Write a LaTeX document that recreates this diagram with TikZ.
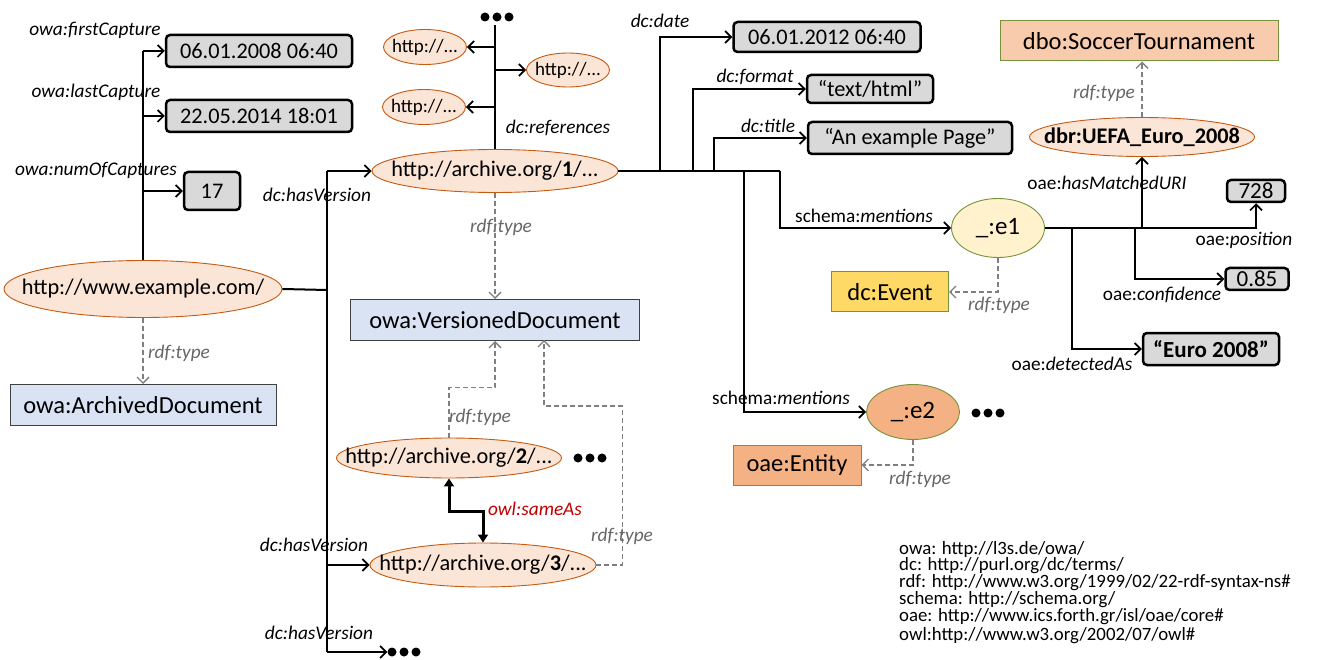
\documentclass[tikz,border=0pt]{standalone}
\usepackage{fontspec}
\setmainfont{Carlito}
\usetikzlibrary{arrows.meta,shapes.geometric,calc}
\definecolor{urifill}{HTML}{FBE5D6}
\definecolor{uribd}{HTML}{C55A11}
\definecolor{litfill}{HTML}{D9D9D9}
\definecolor{clsfill}{HTML}{DAE3F3}
\definecolor{clsbd}{HTML}{404040}
\definecolor{grnbd}{HTML}{76923C}
\definecolor{evfill}{HTML}{FFD966}
\definecolor{e1fill}{HTML}{FFF2CC}
\definecolor{entfill}{HTML}{F4B183}
\definecolor{dbofill}{HTML}{F8CBAD}
\definecolor{rtgray}{HTML}{7F7F7F}
\definecolor{rtlbl}{HTML}{666666}
\definecolor{owlred}{HTML}{C00000}
\newcommand\fsMain{\fontsize{22.3}{26}\selectfont}
\newcommand\fsCls{\fontsize{24.5}{29}\selectfont}
\newcommand\fsLbl{\fontsize{19.3}{22}\selectfont\itshape}
\newcommand\fsSmall{\fontsize{19}{22}\selectfont}
\newcommand\fsLeg{\fontsize{18.8}{16.7}\selectfont}
\newcommand\zb[1]{\makebox[0pt]{#1}}
\newcommand\threedots{\tikz{\fill (0pt,0pt) circle (4.5pt) (12pt,0pt) circle (4.5pt) (24pt,0pt) circle (4.5pt);}}
\begin{document}
\begin{tikzpicture}[x=1pt,y=-1pt,
  uri/.style={ellipse, draw=uribd, fill=urifill, line width=0.9pt, inner sep=0pt, font=\fsMain},
  lit/.style={rectangle, rounded corners=4pt, draw=black, line width=2.5pt, fill=litfill, inner sep=0pt, font=\fsMain},
  cls/.style={rectangle, draw=clsbd, fill=clsfill, line width=1pt, inner sep=0pt, font=\fsCls},
  lbl/.style={inner sep=0pt, font=\fsLbl},
  rtl/.style={inner sep=0pt, font=\fsLbl, text=rtlbl},
  conn/.style={line width=1.7pt, -{Straight Barb[length=6pt,width=12pt]}},
  trunk/.style={line width=2pt},
  rt/.style={draw=rtgray, line width=1.3pt, dash pattern=on 5pt off 3pt, -{Straight Barb[length=6pt,width=12pt]}},
  same/.style={line width=3pt, {Triangle[length=8pt,width=10pt]}-{Triangle[length=8pt,width=10pt]}},
  dotsn/.style={inner sep=0pt}
]
\useasboundingbox (0,0) rectangle (1317,660);

% ---------- nodes ----------
\node[uri, minimum width=278, minimum height=57] (ex) at (143,289) {\zb{http://www.example.com/}};
\node[uri, minimum width=246, minimum height=43] (a1) at (495,171) {\zb{http://archive.org/\textbf{1}/...}};
\node[uri, minimum width=225, minimum height=40] (a2) at (449,458) {\zb{http://archive.org/\textbf{2}/...}};
\node[uri, minimum width=226, minimum height=44] (a3) at (483,565) {\zb{http://archive.org/\textbf{3}/...}};
\node[uri, minimum width=83, minimum height=35, font=\fsSmall] (h1) at (425,47) {\zb{http://...}};
\node[uri, minimum width=83, minimum height=34, font=\fsSmall] (h2) at (568,70) {\zb{http://...}};
\node[uri, minimum width=83, minimum height=35, font=\fsSmall] (h3) at (424,107) {\zb{http://...}};
\node[ellipse, draw=grnbd, fill=e1fill, line width=0.9pt, inner sep=0pt, minimum width=93, minimum height=59, font=\fontsize{25}{30}\selectfont] (e1) at (998,228) {\zb{\_:e1}};
\node[ellipse, draw=grnbd, fill=entfill, line width=0.9pt, inner sep=0pt, minimum width=93, minimum height=55, font=\fontsize{25}{30}\selectfont] (e2) at (913,412) {\zb{\_:e2}};
\node[uri, minimum width=225, minimum height=39] (dbr) at (1142,137) {\zb{\textbf{dbr:UEFA\_Euro\_2008}}};

\node[lit, minimum width=186, minimum height=32] (d1) at (259,51) {06.01.2008 06:40};
\node[lit, minimum width=186, minimum height=32] (d2) at (259,116) {22.05.2014 18:01};
\node[lit, minimum width=56, minimum height=38] (n17) at (212,191) {17};
\node[lit, minimum width=187, minimum height=30] (date) at (827,37) {06.01.2012 06:40};
\node[lit, minimum width=126, minimum height=28] (fmt) at (870,89) {“text/html”};
\node[lit, minimum width=204, minimum height=32] (title) at (910,138) {“An example Page”};
\node[lit, minimum width=58, minimum height=22, font=\fontsize{23}{26}\selectfont] (pos) at (1256,191) {728};
\node[lit, minimum width=63, minimum height=22, font=\fontsize{23}{26}\selectfont] (conf) at (1257,279) {0.85};
\node[lit, minimum width=136, minimum height=32, font=\fontsize{23}{26}\selectfont] (euro) at (1211,349) {\textbf{“Euro 2008”}};

\node[cls, minimum width=266, minimum height=41] (ad) at (143,405) {owa:ArchivedDocument};
\node[cls, minimum width=289, minimum height=41] (vd) at (495,320) {owa:VersionedDocument};
\node[cls, draw=grnbd, fill=evfill, minimum width=117, minimum height=40] (ev) at (890,292) {dc:Event};
\node[cls, draw=grnbd, fill=entfill, minimum width=128, minimum height=40] (ent) at (797,465) {oae:Entity};
\node[cls, draw=grnbd, fill=dbofill, minimum width=278, minimum height=40] (dbo) at (1139,41) {dbo:SoccerTournament};

\node[dotsn] (dTop) at (497,17) {\threedots};
\node[dotsn] (dA2) at (590,458) {\threedots};
\node[dotsn] (dE2) at (988,413) {\threedots};
\node[dotsn] (dHV) at (404,652) {\threedots};

% ---------- coordinates ----------
\coordinate (hvx) at (327,290);
\coordinate (reftop) at (495,25);
\coordinate (jdate) at (660,171);
\coordinate (jfmt) at (693,171);
\coordinate (jtitle) at (714,171);
\coordinate (je2) at (744,171);
\coordinate (je1) at (780,171);
\coordinate (jconf) at (1135,228);
\coordinate (jdet) at (1072,228);
\coordinate (vdin) at (544,340);

% ---------- connectors: example ----------
\draw[trunk] (ex.north) -- (ex.north |- d1.west);
\draw[conn] (ex.north |- d1.west) -- (d1.west);
\draw[conn] (ex.north |- d2.west) -- (d2.west);
\draw[conn] (ex.north |- n17.west) -- (n17.west);
\draw[trunk] (ex.east) -- (hvx);
\draw[trunk] (hvx |- a1.west) -- (hvx |- dHV.west);
\draw[conn] (hvx |- a1.west) -- (a1.west);
\draw[conn] (hvx |- a3.west) -- (a3.west);
\draw[conn] (hvx |- dHV.west) -- (dHV.west);

% ---------- references ----------
\draw[trunk] (a1.north) -- (reftop);
\draw[conn] (a1.north |- h1.east) -- (h1.east);
\draw[conn] (a1.north |- h2.west) -- (h2.west);
\draw[conn] (a1.north |- h3.east) -- (h3.east);

% ---------- archive 1 right ----------
\draw[trunk] (a1.east) -- (je1);
\draw[conn] (jdate) |- (date.west);
\draw[conn] (jfmt) |- (fmt.west);
\draw[conn] (jtitle) |- (title.west);
\draw[conn] (je1) |- (e1.west);
\draw[conn] (je2) |- (e2.west);

% ---------- e1 ----------
\draw[conn] (e1.east) -| (pos.south);
\draw[conn] (dbr.south |- e1.east) -- (dbr.south);
\draw[conn] (jconf) |- (conf.west);
\draw[conn] (jdet) |- (euro.west);

% ---------- rdf:type ----------
\draw[rt] (ex.south) -- (ad.north);
\draw[rt] (a1.south) -- (vd.north);
\draw[rt] (a2.north) -- ++(0,-50) -| (vd.south);
\draw[rt] (a3.east) -- ++(26,0) -- ++(0,-159) -| (vdin);
\draw[rt] (e1.south) |- (ev.east);
\draw[rt] (e2.south) |- (ent.east);
\draw[rt] (dbr.north) -- (dbr.north |- dbo.south);

% ---------- sameAs ----------
\draw[same] (a2.south) -- ++(0,33) -| (a3.north);

% ---------- labels ----------
\node[lbl] (l1) at (95,30) {owa:firstCapture};
\node[lbl] (l2) at (96,92) {owa:lastCapture};
\node[lbl] (l3) at (96,170) {owa:numOfCaptures};
\node[lbl] (l4) at (317,195) {dc:hasVersion};
\node[lbl] (l5) at (314,545) {dc:hasVersion};
\node[lbl] (l6) at (319,633) {dc:hasVersion};
\node[lbl] (l7) at (558,128) {dc:references};
\node[lbl] (l8) at (660,21) {dc:date};
\node[lbl] (l9) at (755,77) {dc:format};
\node[lbl] (l10) at (768,126) {dc:title};
\node[lbl] (l11) at (864,216) {\textup{schema:}mentions};
\node[lbl] (l12) at (781,398) {\textup{schema:}mentions};
\node[lbl] (l13) at (1107,183) {\textup{oae:}hasMatchedURI};
\node[lbl] (l14) at (1244,240) {\textup{oae:}position};
\node[lbl] (l15) at (1162,295) {\textup{oae:}confidence};
\node[lbl] (l16) at (1072,364) {\textup{oae:}detectedAs};
\node[rtl] (r1) at (179,353) {rdf:type};
\node[rtl] (r2) at (501,227) {rdf:type};
\node[rtl] (r3) at (480,417) {rdf:type};
\node[rtl] (r4) at (622,536) {rdf:type};
\node[rtl] (r5) at (999,305) {rdf:type};
\node[rtl] (r6) at (920,479) {rdf:type};
\node[rtl] (r7) at (1104,93) {rdf:type};
\node[lbl, text=owlred] (lsame) at (535,509) {owl:sameAs};

% ---------- legend ----------
\node[anchor=north west, align=left, inner sep=0pt, font=\fsLeg] (legend) at (899,541)
{owa: http://l3s.de/owa/\\
dc: http://purl.org/dc/terms/\\
rdf: http://www.w3.org/1999/02/22-rdf-syntax-ns\#\\
schema: http://schema.org/\\
oae: http://www.ics.forth.gr/isl/oae/core\#\\[3pt]
owl:http://www.w3.org/2002/07/owl\#};
\end{tikzpicture}
\end{document}
